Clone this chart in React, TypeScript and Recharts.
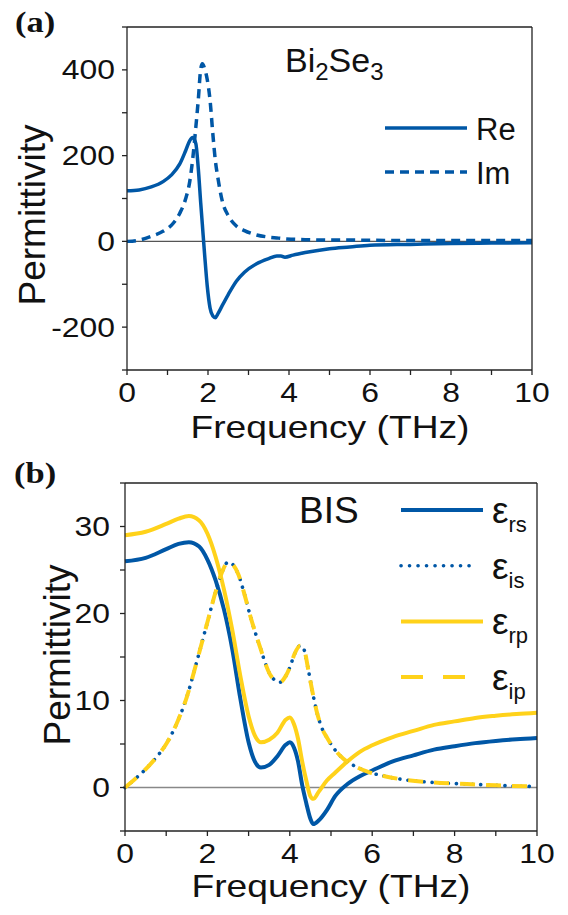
import React from "react";
import { Legend, Line, LineChart, ReferenceLine, XAxis, YAxis } from "recharts";

const BLUE = "#0057a6";
const GOLD = "#ffd21a";
const FRAME = "#222";
const FONT = "'Liberation Sans', Arial, sans-serif";

// (a) Bi2Se3 permittivity
const freqA = [0, 0.3, 0.6, 0.9, 1.1, 1.3, 1.45, 1.55, 1.62, 1.7, 1.76, 1.82, 1.86, 1.92, 1.98, 2.05, 2.12, 2.18, 2.25, 2.35, 2.5, 2.7, 2.9, 3.2, 3.5, 3.7, 3.8, 3.9, 4.1, 4.4, 5.0, 5.5, 6.0, 7.0, 8.0, 9.0, 10];
const reA = [118, 120, 127, 140, 155, 180, 212, 235, 242, 228, 170, 90, 40, -35, -103, -155, -174, -178, -168, -150, -124, -93, -72, -52, -40, -34, -34, -37, -32, -26, -17, -13, -9, -7, -5, -4, -3];
const imA = [0, 3, 12, 24, 38, 65, 100, 140, 190, 267, 330, 402, 414, 402, 378, 330, 250, 190, 145, 95, 60, 36, 25, 15, 10, 8, 7, 6, 5, 4, 3, 3, 2.5, 2, 2, 2, 2];

// (b) BIS permittivity, real parts
const freqBR = [0, 0.5, 1.0, 1.3, 1.55, 1.8, 2.0, 2.2, 2.4, 2.6, 2.8, 3.0, 3.15, 3.3, 3.5, 3.7, 3.9, 4.0, 4.1, 4.2, 4.3, 4.4, 4.5, 4.57, 4.7, 4.9, 5.1, 5.4, 5.7, 6.0, 6.5, 7.0, 7.5, 8.0, 8.5, 9.0, 9.5, 10];
const rsB = [26.0, 26.4, 27.4, 28.0, 28.2, 27.7, 26.2, 23.8, 20.5, 16.0, 10.2, 5.2, 3.0, 2.3, 2.6, 3.6, 4.9, 5.2, 4.6, 3.0, 0.3, -1.8, -3.6, -4.2, -3.8, -2.6, -1.0, 0.4, 1.3, 1.95, 3.0, 3.7, 4.35, 4.75, 5.1, 5.35, 5.55, 5.7];
const rpB = [29.0, 29.4, 30.3, 30.9, 31.2, 30.7, 29.2, 26.5, 22.8, 18.2, 12.8, 8.2, 6.0, 5.2, 5.5, 6.3, 7.8, 8.05, 7.3, 5.6, 3.0, 0.8, -1.0, -1.3, -0.5, 0.8, 1.7, 3.0, 4.1, 4.85, 5.8, 6.5, 7.2, 7.6, 8.0, 8.25, 8.45, 8.6];

// (b) imaginary parts
const freqBI = [0, 0.25, 0.5, 0.75, 1.0, 1.25, 1.5, 1.75, 2.0, 2.2, 2.35, 2.5, 2.6, 2.75, 2.9, 3.03, 3.28, 3.52, 3.65, 3.76, 3.9, 4.0, 4.12, 4.25, 4.35, 4.45, 4.55, 4.65, 4.8, 4.9, 5.1, 5.3, 5.6, 5.9, 6.3, 6.7, 7.5, 8.3, 9.0, 10];
const isB = [0, 1.0, 2.1, 3.4, 5.0, 7.3, 10.4, 14.6, 19.0, 22.5, 24.7, 25.9, 25.7, 24.5, 22.2, 19.9, 16.1, 13.0, 12.3, 12.1, 12.8, 13.8, 15.4, 16.3, 15.8, 13.5, 11.0, 8.8, 6.6, 5.75, 4.3, 3.3, 2.4, 1.8, 1.3, 0.95, 0.57, 0.4, 0.25, 0.1];
const ipB = [0, 1.0, 2.1, 3.4, 5.0, 7.3, 10.4, 14.6, 19.0, 22.5, 24.7, 25.9, 25.7, 24.5, 22.2, 19.9, 16.1, 13.0, 12.3, 12.1, 12.8, 13.8, 15.4, 16.3, 15.8, 13.5, 11.0, 8.8, 6.6, 5.75, 4.3, 3.3, 2.4, 1.8, 1.3, 0.95, 0.57, 0.4, 0.25, 0.1];

const xTicks = [0, 1, 2, 3, 4, 5, 6, 7, 8, 9, 10];
const yTicksA = [-300, -200, -100, 0, 100, 200, 300, 400, 500];
const yTicksB = [-5, 0, 5, 10, 15, 20, 25, 30, 35];

const dataA = freqA.map((f, i) => ({ f, re: reA[i], im: imA[i] }));
const dataBR = freqBR.map((f, i) => ({ f, rs: rsB[i], rp: rpB[i] }));
const dataBI = freqBI.map((f, i) => ({ f, is: isB[i], ip: ipB[i] }));

const axisStyle = { stroke: FRAME, strokeWidth: 1.3 };

function XTick({ x, y, payload }: any) {
  if (payload.value % 2 !== 0) return <g />;
  return (
    <text transform={`translate(${x},${y + 27}) scale(1.18,1)`} textAnchor="middle" fontSize={27} fontFamily={FONT} fill="#111">
      {payload.value}
    </text>
  );
}

const makeYTick = (step: number) => ({ x, y, payload }: any) => {
  const v = payload.value;
  if (v % step !== 0) return <g />;
  return (
    <text transform={`translate(${x},${y + 9.5}) scale(1.18,1)`} textAnchor="end" fontSize={27} fontFamily={FONT} fill="#111">
      {v}
    </text>
  );
};

function LegendA() {
  const rows = [
    { name: "Re", dash: undefined },
    { name: "Im", dash: "9 6" },
  ];
  return (
    <svg width={170} height={90}>
      {rows.map((r, i) => (
        <g key={r.name}>
          <line x1={5} x2={87} y1={28 + i * 44} y2={28 + i * 44} stroke={BLUE} strokeWidth={3.5} strokeDasharray={r.dash} />
          <text x={96} y={40 + i * 44} fontSize={31} fontFamily={FONT} fill="#111">{r.name}</text>
        </g>
      ))}
    </svg>
  );
}

function LegendB() {
  const rows = [
    { sub: "rs", color: BLUE, dash: undefined, cap: "butt", end: 88 },
    { sub: "is", color: BLUE, dash: "0.1 8.4", cap: "round", end: 78 },
    { sub: "rp", color: GOLD, dash: undefined, cap: "butt", end: 88 },
    { sub: "ip", color: GOLD, dash: "22 20", cap: "butt", end: 70 },
  ];
  return (
    <svg width={170} height={230}>
      {rows.map((r, i) => {
        const yy = 25 + i * 55.7;
        return (
          <g key={r.sub}>
            <line x1={6} x2={r.end} y1={yy} y2={yy} stroke={r.color} strokeWidth={r.dash && r.cap === "round" ? 3.6 : 4} strokeDasharray={r.dash} strokeLinecap={r.cap as any} />
            <text x={97} y={yy + 13} fontSize={37} fontFamily={FONT} fill="#111">
              ε<tspan fontSize={22} dy={9}>{r.sub}</tspan>
            </text>
          </g>
        );
      })}
    </svg>
  );
}

export default function App() {
  const textFont = { fontFamily: FONT, fill: "#111" };
  return (
    <div style={{ position: "absolute", left: 0, top: 0, width: 568, height: 915, background: "#fff" }}>
      <div style={{ position: "absolute", left: 0, top: 0 }}>
        <LineChart width={568} height={455} data={dataA} margin={{ top: 27, right: 36, bottom: 0, left: 0 }}>
          <XAxis dataKey="f" type="number" domain={[0, 10]} ticks={xTicks} interval={0} height={85} tickSize={5} tickMargin={0} tick={XTick} axisLine={axisStyle} tickLine={axisStyle} />
          <XAxis xAxisId="top" orientation="top" mirror type="number" domain={[0, 10]} ticks={xTicks} interval={0} tick={false} tickSize={5} axisLine={axisStyle} tickLine={axisStyle} allowDataOverflow />
          <YAxis type="number" domain={[-300, 500]} ticks={yTicksA} interval={0} width={127} tickSize={5} tickMargin={7} tick={makeYTick(200)} axisLine={axisStyle} tickLine={axisStyle} />
          <YAxis yAxisId="right" orientation="right" mirror type="number" domain={[-300, 500]} ticks={yTicksA} interval={0} tick={false} tickSize={5} axisLine={axisStyle} tickLine={axisStyle} allowDataOverflow />
          <ReferenceLine y={0} stroke="#555" strokeWidth={1.3} />
          <Line dataKey="re" type="monotone" stroke={BLUE} strokeWidth={3.5} dot={false} isAnimationActive={false} />
          <Line dataKey="im" type="monotone" stroke={BLUE} strokeWidth={3.5} strokeDasharray="9 6" dot={false} isAnimationActive={false} />
          <Legend layout="vertical" align="center" verticalAlign="middle" content={() => <LegendA />} wrapperStyle={{ left: 380, top: 100, width: 170, height: 90 }} />
        </LineChart>
      </div>
      <div style={{ position: "absolute", left: 0, top: 455 }}>
        <LineChart width={568} height={460} margin={{ top: 28, right: 31, bottom: 0, left: 0 }}>
          <XAxis dataKey="f" type="number" domain={[0, 10]} ticks={xTicks} interval={0} height={84} tickSize={5} tickMargin={0} tick={XTick} axisLine={axisStyle} tickLine={axisStyle} />
          <XAxis xAxisId="top" orientation="top" mirror type="number" domain={[0, 10]} ticks={xTicks} interval={0} tick={false} tickSize={5} axisLine={axisStyle} tickLine={axisStyle} allowDataOverflow />
          <YAxis type="number" domain={[-5, 35]} ticks={yTicksB} interval={0} width={125} tickSize={5} tickMargin={10} tick={makeYTick(10)} axisLine={axisStyle} tickLine={axisStyle} />
          <YAxis yAxisId="right" orientation="right" mirror type="number" domain={[-5, 35]} ticks={yTicksB} interval={0} tick={false} tickSize={5} axisLine={axisStyle} tickLine={axisStyle} allowDataOverflow />
          <ReferenceLine y={0} stroke="#888" strokeWidth={1.5} />
          <Line data={dataBR} dataKey="rs" type="monotone" stroke={BLUE} strokeWidth={4} dot={false} isAnimationActive={false} />
          <Line data={dataBR} dataKey="rp" type="monotone" stroke={GOLD} strokeWidth={4} dot={false} isAnimationActive={false} />
          <Line data={dataBI} dataKey="is" type="monotone" stroke={BLUE} strokeWidth={3.6} strokeDasharray="0.1 8" strokeLinecap="round" dot={false} isAnimationActive={false} />
          <Line data={dataBI} dataKey="ip" type="monotone" stroke={GOLD} strokeWidth={4} strokeDasharray="15 11" dot={false} isAnimationActive={false} />
          <Legend layout="vertical" align="center" verticalAlign="middle" content={() => <LegendB />} wrapperStyle={{ left: 395, top: 30, width: 170, height: 230 }} />
        </LineChart>
      </div>
      <svg width={568} height={915} style={{ position: "absolute", left: 0, top: 0, pointerEvents: "none" }}>
        <text transform="translate(15,32) scale(1.15,1)" fontSize={30} fontWeight="bold" fontFamily="'Liberation Serif', 'Times New Roman', serif" fill="#111">(a)</text>
        <text transform="translate(14,483) scale(1.15,1)" fontSize={30} fontWeight="bold" fontFamily="'Liberation Serif', 'Times New Roman', serif" fill="#111">(b)</text>
        <text x={285} y={72} fontSize={34} {...textFont}>
          Bi<tspan fontSize={24} dy={8}>2</tspan><tspan dy={-8}>Se</tspan><tspan fontSize={24} dy={8}>3</tspan>
        </text>
        <text x={299} y={523} fontSize={37} {...textFont}>BIS</text>
        <text transform="translate(45,215) rotate(-90)" textAnchor="middle" fontSize={37} {...textFont}>Permittivity</text>
        <text transform="translate(70,655) rotate(-90)" textAnchor="middle" fontSize={37} {...textFont}>Permittivity</text>
        <text transform="translate(330,438) scale(1.2,1)" textAnchor="middle" fontSize={31} {...textFont}>Frequency (THz)</text>
        <text transform="translate(331,897) scale(1.2,1)" textAnchor="middle" fontSize={31} {...textFont}>Frequency (THz)</text>
      </svg>
    </div>
  );
}
